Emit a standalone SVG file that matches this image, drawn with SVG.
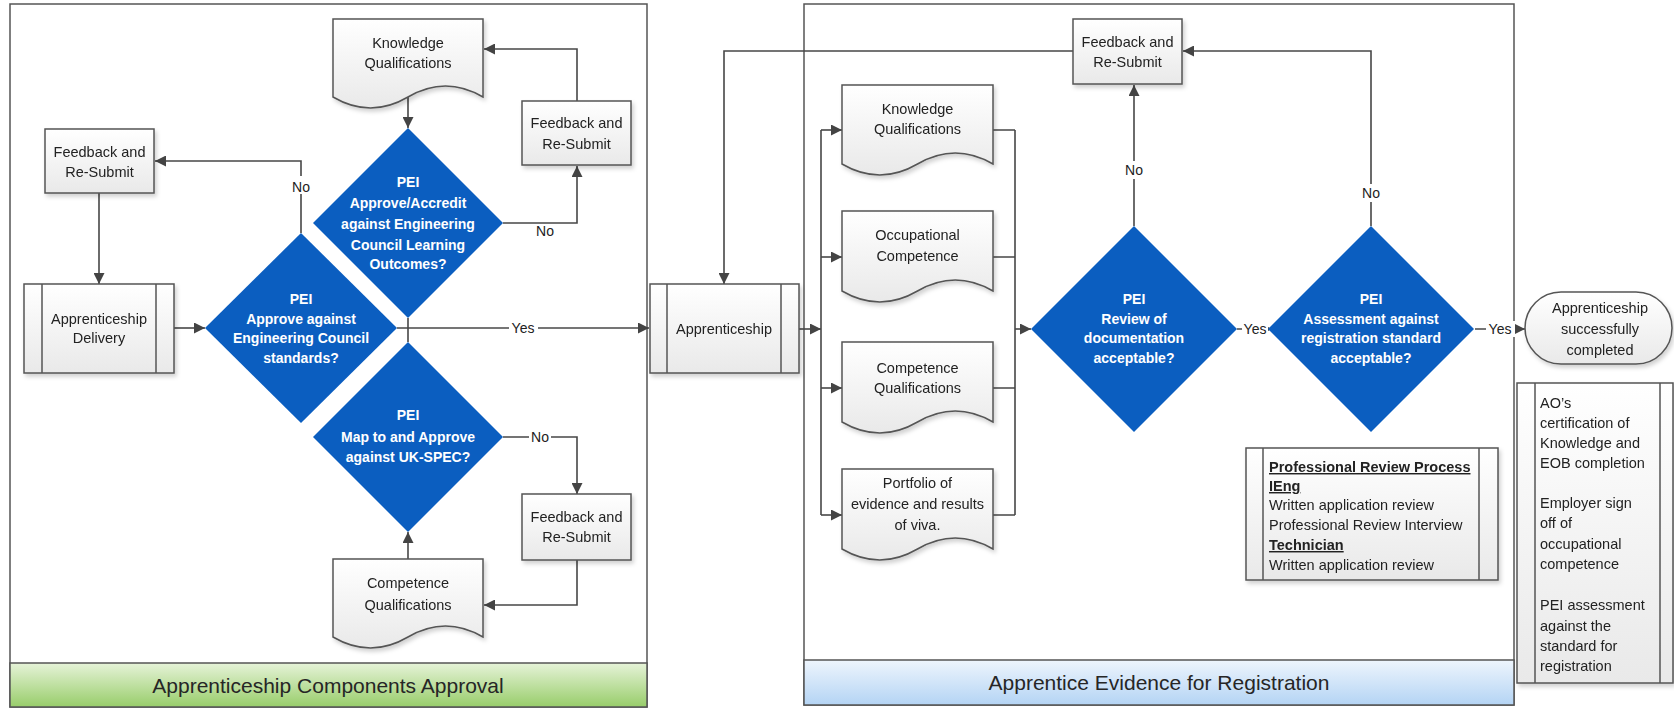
<svg xmlns="http://www.w3.org/2000/svg" width="1674" height="708" viewBox="0 0 1674 708">
<defs>
<linearGradient id="gn" x1="0" y1="0" x2="0" y2="1"><stop offset="0" stop-color="#ffffff"/><stop offset="1" stop-color="#e9e9e9"/></linearGradient>
<linearGradient id="gg" x1="0" y1="0" x2="0" y2="1"><stop offset="0" stop-color="#e6f3d8"/><stop offset="1" stop-color="#98cd6a"/></linearGradient>
<linearGradient id="gb" x1="0" y1="0" x2="0" y2="1"><stop offset="0" stop-color="#eef5fd"/><stop offset="1" stop-color="#b4d4f4"/></linearGradient>
<filter id="sh" x="-10%" y="-10%" width="130%" height="130%"><feDropShadow dx="2" dy="3" stdDeviation="2" flood-color="#000" flood-opacity="0.18"/></filter>
<marker id="ar" viewBox="0 0 10 10" refX="10" refY="5" markerWidth="11" markerHeight="11" markerUnits="userSpaceOnUse" orient="auto"><path d="M0,0 L10,5 L0,10 z" fill="#444"/></marker>
<style>
.node{fill:url(#gn);stroke:#555;stroke-width:1.5}
.sl{stroke:#555;stroke-width:1.5;fill:none}
.dia{fill:#0b5ec0}
.cont{fill:#fff;stroke:#555;stroke-width:1.5}
.ln{stroke:#474747;stroke-width:1.6;fill:none}
.arr{marker-end:url(#ar)}
.t{font-family:"Liberation Sans",Arial,sans-serif;font-size:14.5px;fill:#222;text-anchor:middle}
.tl{font-family:"Liberation Sans",Arial,sans-serif;font-size:14.5px;fill:#222}
.b{font-weight:bold;text-decoration:underline}
.dt{font-family:"Liberation Sans",Arial,sans-serif;font-size:14px;font-weight:bold;fill:#fff;text-anchor:middle}
.lb{font-family:"Liberation Sans",Arial,sans-serif;font-size:14px;fill:#222;text-anchor:middle}
.bt{font-family:"Liberation Sans",Arial,sans-serif;font-size:21px;fill:#262626;text-anchor:middle}
.bg{fill:#fff}
</style>
</defs>

<g id="container-left">
<rect class="cont" x="10" y="4" width="637" height="703"/>
<rect x="10" y="663" width="637" height="44" fill="url(#gg)" stroke="#555" stroke-width="1.5"/>
<text class="bt" x="328" y="693">Apprenticeship Components Approval</text>
</g>
<g id="container-right">
<rect class="cont" x="804" y="4" width="710" height="701"/>
<rect x="804" y="660" width="710" height="45" fill="url(#gb)" stroke="#555" stroke-width="1.5"/>
<text class="bt" x="1159" y="690">Apprentice Evidence for Registration</text>
</g>

<g id="connectors">
<path class="ln arr" d="M408,97 V128"/>
<path class="ln arr" d="M503,223 H577 V166"/>
<path class="ln arr" d="M577,101 V49 H484"/>
<path class="ln arr" d="M301,233 V161 H155"/>
<path class="ln arr" d="M99,193 V284"/>
<path class="ln arr" d="M174,328 H205"/>
<path class="ln arr" d="M397,328 H649"/>
<path class="ln" d="M408,318 V342"/>
<path class="ln arr" d="M408,559 V532"/>
<path class="ln arr" d="M503,437 H577 V494"/>
<path class="ln arr" d="M577,560 V605 H484"/>
<path class="ln arr" d="M799,329 H821"/>
<path class="ln" d="M821,130 V515"/>
<path class="ln arr" d="M821,130 H842"/>
<path class="ln arr" d="M821,257 H842"/>
<path class="ln arr" d="M821,388 H842"/>
<path class="ln arr" d="M821,515 H842"/>
<path class="ln" d="M993,130 H1015 M993,257 H1015 M993,388 H1015 M993,515 H1015 M1015,130 V515"/>
<path class="ln arr" d="M1015,329 H1031"/>
<path class="ln arr" d="M1134,226 V85"/>
<path class="ln arr" d="M1073,51 H724 V284"/>
<path class="ln arr" d="M1371,226 V51 H1183"/>
<path class="ln arr" d="M1237,329 H1272"/>
<path class="ln arr" d="M1475,329 H1525"/>
<rect class="bg" x="290" y="176" width="22" height="18"/>
<text class="lb" x="301" y="192">No</text>
<text class="lb" x="545" y="236">No</text>
<rect class="bg" x="509" y="320" width="29" height="16"/>
<text class="lb" x="523" y="333">Yes</text>
<rect class="bg" x="529" y="429" width="22" height="16"/>
<text class="lb" x="540" y="442">No</text>
<rect class="bg" x="1123" y="161" width="22" height="18"/>
<text class="lb" x="1134" y="175">No</text>
<rect class="bg" x="1360" y="184" width="22" height="18"/>
<text class="lb" x="1371" y="198">No</text>
<rect class="bg" x="1242" y="321" width="26" height="16"/>
<text class="lb" x="1255" y="334">Yes</text>
<rect class="bg" x="1486" y="321" width="29" height="16"/>
<text class="lb" x="1500" y="334">Yes</text>
</g>

<g id="kq-left" filter="url(#sh)">
<path class="node" d="M333,19 H483 V97 Q445.5,75 408,97 T333,97 Z"/>
<text class="t" x="408" y="48">Knowledge</text>
<text class="t" x="408" y="68">Qualifications</text>
</g>

<g id="fb-left" filter="url(#sh)">
<rect class="node" x="45" y="129" width="109" height="64"/>
<text class="t" x="99.5" y="157">Feedback and</text>
<text class="t" x="99.5" y="177">Re-Submit</text>
</g>

<g id="fb-top" filter="url(#sh)">
<rect class="node" x="522" y="101" width="109" height="64"/>
<text class="t" x="576.5" y="128">Feedback and</text>
<text class="t" x="576.5" y="149">Re-Submit</text>
</g>

<g id="delivery" filter="url(#sh)">
<rect class="node" x="24" y="284" width="150" height="89"/>
<path class="sl" d="M42,284 V373 M156,284 V373"/>
<text class="t" x="99" y="324">Apprenticeship</text>
<text class="t" x="99" y="343">Delivery</text>
</g>

<g id="dia-standards">
<path class="dia" d="M301,233 L397,328 L301,423 L205,328 Z"/>
<text class="dt" x="301" y="304">PEI</text>
<text class="dt" x="301" y="324">Approve against</text>
<text class="dt" x="301" y="343">Engineering Council</text>
<text class="dt" x="301" y="363">standards?</text>
</g>

<g id="dia-accredit">
<path class="dia" d="M408,128 L503,223 L408,318 L313,223 Z"/>
<text class="dt" x="408" y="187">PEI</text>
<text class="dt" x="408" y="208">Approve/Accredit</text>
<text class="dt" x="408" y="229">against Engineering</text>
<text class="dt" x="408" y="250">Council Learning</text>
<text class="dt" x="408" y="269">Outcomes?</text>
</g>

<g id="dia-ukspec">
<path class="dia" d="M408,342 L503,437 L408,532 L313,437 Z"/>
<text class="dt" x="408" y="420">PEI</text>
<text class="dt" x="408" y="442">Map to and Approve</text>
<text class="dt" x="408" y="462">against UK-SPEC?</text>
</g>

<g id="fb-bottom" filter="url(#sh)">
<rect class="node" x="522" y="494" width="109" height="66"/>
<text class="t" x="576.5" y="522">Feedback and</text>
<text class="t" x="576.5" y="542">Re-Submit</text>
</g>

<g id="cq-left" filter="url(#sh)">
<path class="node" d="M333,559 H483 V637 Q445.5,615 408,637 T333,637 Z"/>
<text class="t" x="408" y="588">Competence</text>
<text class="t" x="408" y="610">Qualifications</text>
</g>

<g id="apprenticeship" filter="url(#sh)">
<rect class="node" x="650" y="284" width="149" height="89"/>
<path class="sl" d="M667,284 V373 M781,284 V373"/>
<text class="t" x="724" y="334">Apprenticeship</text>
</g>

<g id="kq-right" filter="url(#sh)">
<path class="node" d="M842,85 H993 V164 Q955.25,142 917.5,164 T842,164 Z"/>
<text class="t" x="917.5" y="114">Knowledge</text>
<text class="t" x="917.5" y="134">Qualifications</text>
</g>

<g id="oc-right" filter="url(#sh)">
<path class="node" d="M842,211 H993 V291 Q955.25,269 917.5,291 T842,291 Z"/>
<text class="t" x="917.5" y="240">Occupational</text>
<text class="t" x="917.5" y="261">Competence</text>
</g>

<g id="cq-right" filter="url(#sh)">
<path class="node" d="M842,342 H993 V422 Q955.25,400 917.5,422 T842,422 Z"/>
<text class="t" x="917.5" y="373">Competence</text>
<text class="t" x="917.5" y="393">Qualifications</text>
</g>

<g id="portfolio" filter="url(#sh)">
<path class="node" d="M842,469 H993 V549 Q955.25,527 917.5,549 T842,549 Z"/>
<text class="t" x="917.5" y="488">Portfolio of</text>
<text class="t" x="917.5" y="509">evidence and results</text>
<text class="t" x="917.5" y="530">of viva.</text>
</g>

<g id="fb-right" filter="url(#sh)">
<rect class="node" x="1073" y="19" width="109" height="65"/>
<text class="t" x="1127.5" y="47">Feedback and</text>
<text class="t" x="1127.5" y="67">Re-Submit</text>
</g>

<g id="dia-review">
<path class="dia" d="M1134,226 L1237,329 L1134,432 L1031,329 Z"/>
<text class="dt" x="1134" y="304">PEI</text>
<text class="dt" x="1134" y="324">Review of</text>
<text class="dt" x="1134" y="343">documentation</text>
<text class="dt" x="1134" y="363">acceptable?</text>
</g>

<g id="dia-assessment">
<path class="dia" d="M1371,226 L1474,329 L1371,432 L1268,329 Z"/>
<text class="dt" x="1371" y="304">PEI</text>
<text class="dt" x="1371" y="324">Assessment against</text>
<text class="dt" x="1371" y="343">registration standard</text>
<text class="dt" x="1371" y="363">acceptable?</text>
</g>

<g id="completed" filter="url(#sh)">
<rect class="node" x="1525" y="292" width="147" height="72" rx="36" ry="36"/>
<text class="t" x="1600" y="313">Apprenticeship</text>
<text class="t" x="1600" y="334">successfully</text>
<text class="t" x="1600" y="355">completed</text>
</g>

<g id="review-process" filter="url(#sh)">
<rect class="node" x="1246" y="448" width="252" height="132"/>
<path class="sl" d="M1263,448 V580 M1479,448 V580"/>
<text class="tl b" x="1269" y="472">Professional Review Process</text>
<text class="tl b" x="1269" y="491">IEng</text>
<text class="tl" x="1269" y="510">Written application review</text>
<text class="tl" x="1269" y="530">Professional Review Interview</text>
<text class="tl b" x="1269" y="550">Technician</text>
<text class="tl" x="1269" y="570">Written application review</text>
</g>

<g id="ao-box" filter="url(#sh)">
<rect class="node" x="1517" y="383" width="156" height="300"/>
<path class="sl" d="M1535,383 V683 M1660,383 V683"/>
<text class="tl" x="1540" y="408">AO’s</text>
<text class="tl" x="1540" y="428">certification of</text>
<text class="tl" x="1540" y="448">Knowledge and</text>
<text class="tl" x="1540" y="468">EOB completion</text>
<text class="tl" x="1540" y="508">Employer sign</text>
<text class="tl" x="1540" y="528">off of</text>
<text class="tl" x="1540" y="549">occupational</text>
<text class="tl" x="1540" y="569">competence</text>
<text class="tl" x="1540" y="610">PEI assessment</text>
<text class="tl" x="1540" y="631">against the</text>
<text class="tl" x="1540" y="651">standard for</text>
<text class="tl" x="1540" y="671">registration</text>
</g>
</svg>
